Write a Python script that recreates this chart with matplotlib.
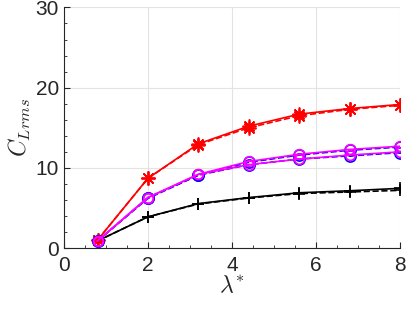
import matplotlib.pyplot as plt
from matplotlib.ticker import MultipleLocator

plt.rcParams['font.family'] = ['Liberation Sans', 'DejaVu Sans']
plt.rcParams['mathtext.fontset'] = 'cm'

lam = [0.8, 2.0, 3.2, 4.4, 5.6, 6.8, 8.0]

red_solid = [1.0, 8.7, 13.0, 15.2, 16.7, 17.4, 17.9]
red_dash = [1.0, 8.7, 12.9, 15.0, 16.5, 17.3, 17.8]
mag_up = [0.9, 6.3, 9.2, 10.8, 11.7, 12.3, 12.7]
blue_up = [0.9, 6.3, 9.1, 10.7, 11.6, 12.2, 12.6]
mag_low = [0.9, 6.3, 9.2, 10.4, 11.1, 11.6, 12.0]
blue_low = [0.9, 6.2, 9.1, 10.4, 11.1, 11.5, 11.9]
blk_solid = [0.9, 3.9, 5.55, 6.3, 6.9, 7.15, 7.45]
blk_dash = [0.9, 3.9, 5.5, 6.25, 6.8, 7.0, 7.2]

fig = plt.figure(figsize=(4.07, 3.09), dpi=100)
ax = fig.add_axes([0.157, 0.197, 0.826, 0.779])

star = (8, 2, 0)  # MATLAB style asterisk
ax.plot(lam, blk_dash, 'k--+', lw=1.2, ms=9, mew=1.2)
ax.plot(lam, blk_solid, 'k-+', lw=1.2, ms=9, mew=1.2)
ax.plot(lam, red_dash, '--', marker=star, color='#ff0000', lw=1.2, ms=10, mew=1.2)
ax.plot(lam, red_solid, '-', marker=star, color='#ff0000', lw=1.2, ms=10, mew=1.2)
ax.plot(lam, blue_up, '--o', color='#0000ff', lw=1.2, ms=8, mfc='none', mew=1.2)
ax.plot(lam, blue_low, '--o', color='#0000ff', lw=1.2, ms=8, mfc='none', mew=1.2)
ax.plot(lam, mag_up, '-o', color='#ff00ff', lw=1.2, ms=7, mfc='none', mew=1.2)
ax.plot(lam, mag_low, '-o', color='#ff00ff', lw=1.2, ms=7, mfc='none', mew=1.2)

ax.set_xlim(0, 8)
ax.set_ylim(0, 30)
ax.xaxis.set_major_locator(MultipleLocator(2))
ax.xaxis.set_minor_locator(MultipleLocator(0.5))
ax.yaxis.set_major_locator(MultipleLocator(10))
ax.yaxis.set_minor_locator(MultipleLocator(2))

ax.grid(True, which='major', color='#e3e3e3', lw=0.8)
ax.set_axisbelow(True)
for s in ['top', 'right']:
    ax.spines[s].set_visible(False)
for s in ['left', 'bottom']:
    ax.spines[s].set_color('#262626')
    ax.spines[s].set_linewidth(0.8)
ax.tick_params(which='both', direction='in', colors='#262626', labelsize=15)
ax.tick_params(which='major', length=4)
ax.tick_params(which='minor', length=2.5)
ax.tick_params(axis='x', pad=6)

ax.set_xlabel(r'$\lambda^{*}$', fontsize=17, color='#262626', labelpad=0)
ax.set_ylabel(r'$C_{Lrms}$', fontsize=17, color='#262626', labelpad=2)

fig.savefig('out.png', dpi=100)
